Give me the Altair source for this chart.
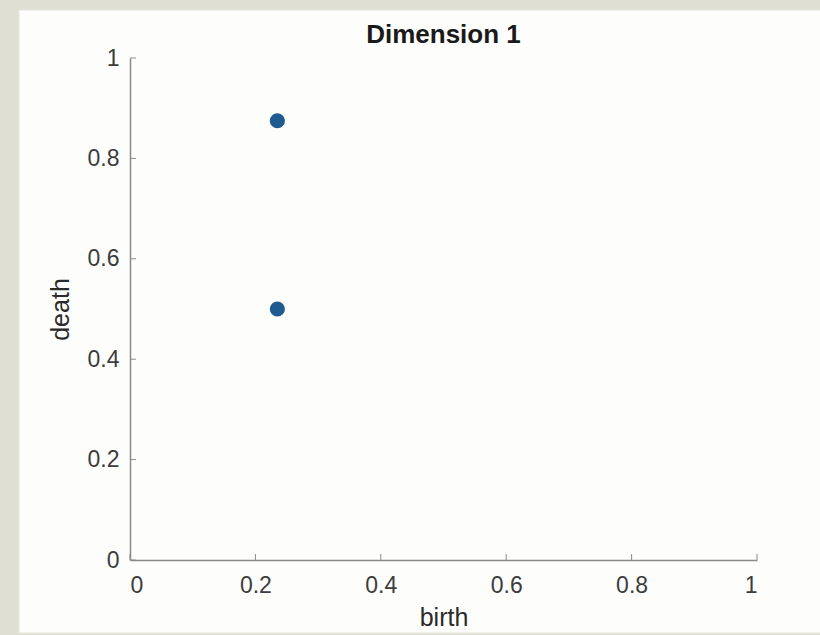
import altair as alt
import pandas as pd

# persistence points (birth, death)
birth = [0.235, 0.235]
death = [0.875, 0.5]
tick_values = [0, 0.2, 0.4, 0.6, 0.8, 1]
title_text = ["Dimension 1"]

W, H = 627, 502
FONT = "Liberation Sans"

points = pd.DataFrame({"birth": birth, "death": death})
ticks = pd.DataFrame({"v": tick_values})

x_scale = alt.Scale(domain=[0, 1], nice=False)
y_scale = alt.Scale(domain=[0, 1], nice=False)

axis_common = dict(
    ticks=False,
    grid=False,
    zindex=1,
    domainColor="#8a8a8a",
    domainWidth=1.5,
    labelColor="#3c3c3c",
    labelFont=FONT,
    labelFontSize=23,
    titleFont=FONT,
    titleFontSize=25,
    titleFontWeight="normal",
    titleColor="#2a2a2a",
    values=tick_values,
    labelExpr="datum.value == 0 ? '0' : datum.value == 1 ? '1' : format(datum.value, '.1f')",
)

# white figure card behind the axes
card = alt.Chart(pd.DataFrame({"a": [0]})).mark_rect(
    fill="#fdfdfb", stroke="#e6e6dc", strokeWidth=1
).encode(
    x=alt.value(-111), x2=alt.value(692),
    y=alt.value(-48), y2=alt.value(575),
)

# figure title, centred over the plot area
title = alt.Chart(pd.DataFrame({"t": title_text})).mark_text(
    font=FONT, fontSize=26, fontWeight="bold", color="#1a1a1a",
    align="center", baseline="middle",
).encode(text="t:N", x=alt.value(W / 2), y=alt.value(-23))

dots = alt.Chart(points).mark_circle(size=230, opacity=1, color="#1d5b90").encode(
    x=alt.X("birth:Q", scale=x_scale,
            axis=alt.Axis(title="birth", labelPadding=14, titlePadding=8, **axis_common)),
    y=alt.Y("death:Q", scale=y_scale,
            axis=alt.Axis(title="death", labelPadding=11, titlePadding=14, **axis_common)),
)

# inward-pointing tick marks
xticks = alt.Chart(ticks).mark_rule(color="#8a8a8a", strokeWidth=1).encode(
    x=alt.X("v:Q", scale=x_scale),
    y=alt.value(H), y2=alt.value(H - 6),
)
yticks = alt.Chart(ticks).mark_rule(color="#8a8a8a", strokeWidth=1).encode(
    y=alt.Y("v:Q", scale=y_scale),
    x=alt.value(0), x2=alt.value(6),
)

chart = alt.layer(card, title, xticks, yticks, dots).properties(
    width=W,
    height=H,
    autosize=alt.AutoSizeParams(type="none"),
    padding={"left": 130, "top": 58, "right": 63, "bottom": 75},
    background="#dfdfd3",
).configure_view(stroke=None)

chart.save("out.html", embed_options={"renderer": "svg", "actions": False})
